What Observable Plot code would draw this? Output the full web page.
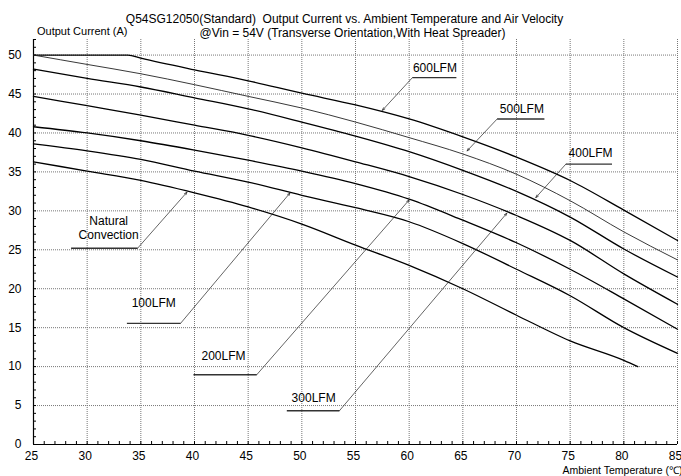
<!DOCTYPE html>
<html><head><meta charset="utf-8">
<script src="https://cdn.jsdelivr.net/npm/d3@7"></script>
<script src="https://cdn.jsdelivr.net/npm/@observablehq/plot@0.6"></script>
<style>
body{margin:0;background:#fff;overflow:hidden}
#chart svg{font-family:"Liberation Sans",Arial,sans-serif}
</style>
</head><body><div id="chart"></div>
<script>
// ---- data ----
const temps = [25,30,35,40,45,50,55,60,65,70,75,80,85];
const temps600 = [25,30,33.8,35,40,45,50,55,60,65,70,75,80,85];
const tempsNC = [25,30,35,40,45,50,55,60,65,70,75,80,81.3];
const lfm600 = [50,50,50,49.6,48.1,46.7,45.1,43.6,41.8,39.5,36.9,33.9,30.1,26.2];
const lfm500 = [50,48.8,47.6,46.2,44.7,43.2,41.4,39.4,37.3,34.7,31.3,27.3,23.7];
const lfm400 = [48.2,47.0,45.9,44.5,43.1,41.4,39.6,37.6,35.2,32.5,29.2,25.1,21.5];
const lfm300 = [44.7,43.5,42.3,41.0,39.7,38.1,36.3,34.4,32.1,29.4,26.2,21.9,18.0];
const lfm200 = [40.8,40.0,39.0,37.8,36.5,35.1,33.5,31.5,28.8,25.9,22.5,18.7,14.8];
const lfm100 = [38.6,37.7,36.6,35.1,33.7,32.0,30.4,28.6,25.8,22.5,19.1,15.0,11.7];
const natConv = [36.3,35.1,33.9,32.3,30.5,28.3,25.6,23.0,20.0,16.6,13.3,10.8,10.0];

const xTicks = [25,30,35,40,45,50,55,60,65,70,75,80,85];
const yTicks = [0,5,10,15,20,25,30,35,40,45,50];
const xMinorTicks = d3.range(25, 86, 1);
const yMinorTicks = d3.range(0, 53, 1);

// annotations
const labels = ["Natural\nConvection","100LFM","200LFM","300LFM","400LFM","500LFM","600LFM"];
const labelT = [32.0,36.2,42.7,51.1,76.9,70.5,62.4];
const labelI = [27.9,18.2,11.5,6.1,37.5,43.1,48.4];
const ulineT1 = [28.5,33.7,39.9,48.6,74.6,68.2,60.3];
const ulineT2 = [34.7,38.7,45.8,53.5,78.9,72.6,64.4];
const ulineI = [25.2,15.55,8.96,4.33,36.0,41.8,47.1];
const elbowT = [34.7,38.7,45.8,53.5,74.6,68.2,60.3];
const tipT = [39.3,48.9,60.0,69.1,71.8,65.4,57.5];
const tipI = [32.4,32.3,31.4,29.7,31.7,37.7,42.9];

const titleText = "Q54SG12050(Standard)  Output Current vs. Ambient Temperature and Air Velocity";
const subtitleText = "@Vin = 54V (Transverse Orientation,With Heat Spreader)";
const yLabel = "Output Current (A)";
const xLabel = "Ambient Temperature (\u2103)";

// ---- build tables ----
const toRows = (ts, vs, s) => ts.map((t, i) => ({T: t, I: vs[i], s}));
const mainRows = [
  ...toRows(temps600, lfm600, "600"),
  ...toRows(temps, lfm400, "400"),
  ...toRows(temps, lfm300, "300"),
  ...toRows(temps, lfm200, "200"),
  ...toRows(temps, lfm100, "100"),
  ...toRows(tempsNC, natConv, "NC")
];
const rows500 = toRows(temps, lfm500, "500");
const ann = labels.map((l, i) => ({
  l, lt: labelT[i], li: labelI[i], u1: ulineT1[i], u2: ulineT2[i], ui: ulineI[i],
  et: elbowT[i], tt: tipT[i], ti: tipI[i]
}));

const W = 681, H = 476, mL = 33, mR = 4, mT = 39, mB = 32;
const frameW = W - mL - mR, frameH = H - mT - mB;
const tickLen = 3;
const gridStyle = {stroke: "#777", strokeDasharray: "1,1", strokeWidth: 1};

const chart = Plot.plot({
  width: W, height: H,
  marginLeft: mL, marginRight: mR, marginTop: mT, marginBottom: mB,
  style: {fontFamily: "'Liberation Sans', Arial, sans-serif", fontSize: "12px", background: "#fff"},
  x: {domain: [25, 85]},
  y: {domain: [0, 52]},
  marks: [
    Plot.ruleX(xTicks.filter(d => d > 25), gridStyle),
    Plot.ruleY(yTicks.filter(d => d > 0), gridStyle),
    // inward minor/major ticks
    Plot.ruleX(xMinorTicks, {stroke: "#000", strokeWidth: 1, insetTop: frameH - tickLen}),
    Plot.ruleY(yMinorTicks, {stroke: "#000", strokeWidth: 1, insetRight: frameW - tickLen}),
    Plot.axisX({ticks: xTicks, tickSize: 0, tickPadding: 7, dx: -2, label: null, fontSize: 12, fill: "#000"}),
    Plot.axisY({ticks: yTicks, tickSize: 0, tickPadding: 12, label: null, fontSize: 12, fill: "#000"}),
    Plot.ruleX([25], {stroke: "#000", strokeWidth: 1.2}),
    Plot.ruleY([0], {stroke: "#000", strokeWidth: 1.2}),
    Plot.line(mainRows, {x: "T", y: "I", z: "s", curve: "monotone-x", stroke: "#000", strokeWidth: 1.3}),
    Plot.line(rows500, {x: "T", y: "I", curve: "monotone-x", stroke: "#222", strokeWidth: 0.9}),
    Plot.link(ann, {x1: "u1", x2: "u2", y1: "ui", y2: "ui", stroke: "#333", strokeWidth: 1.4}),
    Plot.arrow(ann, {x1: "et", y1: "ui", x2: "tt", y2: "ti", stroke: "#222", strokeWidth: 0.7, headLength: 6, headAngle: 40}),
    Plot.text(ann, {x: "lt", y: "li", text: "l", fontSize: 12, fill: "#000", lineHeight: 1.2}),
    Plot.text([titleText], {frameAnchor: "top", dx: -11, dy: -25, fontSize: 12, fill: "#000"}),
    Plot.text([subtitleText], {frameAnchor: "top", dx: -3, dy: -11, fontSize: 12, fill: "#000"}),
    Plot.text([yLabel], {frameAnchor: "top-left", textAnchor: "start", dx: 3.5, dy: -12, fontSize: 11, fill: "#000"}),
    Plot.text([xLabel], {frameAnchor: "bottom-left", textAnchor: "start", dx: 529, dy: 29, fontSize: 10.5, fill: "#000"})
  ]
});
document.getElementById("chart").appendChild(chart);
</script>
</body></html>
